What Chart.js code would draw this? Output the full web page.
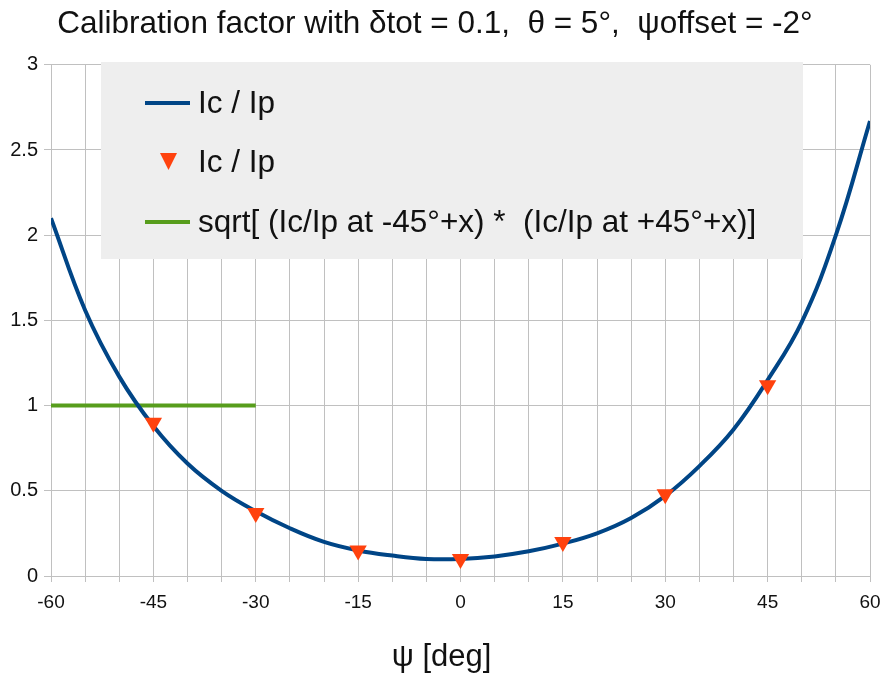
<!DOCTYPE html>
<html>
<head>
<meta charset="utf-8">
<script src="https://cdn.jsdelivr.net/npm/chart.js@4.4.1/dist/chart.umd.min.js"></script>
<style>
  html, body { margin: 0; padding: 0; background: #fff; }
  #wrap { width: 883px; height: 675px; }
</style>
</head>
<body>
<div id="wrap"><canvas id="calChart"></canvas></div>
<script>
// values
var psiCurve = [-60, -55, -50, -45, -40, -35, -30, -25, -20, -15, -10, -5, 0, 5, 10, 15, 20, 25, 30, 35, 40, 45, 50, 55, 60];
var ratioCurve = [2.10, 1.56, 1.17, 0.88, 0.66, 0.50, 0.38, 0.28, 0.20, 0.15, 0.12, 0.10, 0.10, 0.115, 0.145, 0.19, 0.25, 0.34, 0.47, 0.645, 0.86, 1.15, 1.49, 2.00, 2.67];
var psiMarkers = [-45, -30, -15, 0, 15, 30, 45];
var ratioMarkers = [0.90, 0.37, 0.15, 0.10, 0.20, 0.48, 1.12];
var psiGeo = [-60, -30];
var geoMean = [1, 1];
var yTicks = [0, 0.5, 1, 1.5, 2, 2.5, 3];

var labelCurve = 'Ic / Ip';
var labelMarkers = 'Ic / Ip';
var labelGeo = 'sqrt[ (Ic/Ip at -45°+x) *  (Ic/Ip at +45°+x)]';
var xTitle = 'ψ [deg]';

var blue = '#004586';
var orange = '#ff420e';
var green = '#579d1c';
var gridColor = '#c0c0c0';
var fontFamily = '"Liberation Sans", Arial, sans-serif';

function toPoints(xs, ys) {
    return xs.map(function(x, i) { return { x: x, y: ys[i] }; });
}

// legend box drawn inside the plot, like the office chart,
// and the axis title centred on the page rather than the plot
var boxLegend = {
    id: 'boxLegend',
    afterDatasetsDraw: function(chart) {
        var ctx = chart.ctx;
        ctx.save();
        ctx.fillStyle = '#eeeeee';
        ctx.fillRect(101, 62, 702, 197);
        ctx.font = '31.5px ' + fontFamily;
        ctx.textBaseline = 'middle';
        var rows = [103, 162, 222];
        chart.data.datasets.forEach(function(ds, i) {
            var y = rows[i];
            if (ds.showLine === false) {
                ctx.fillStyle = ds.pointBackgroundColor;
                ctx.beginPath();
                ctx.moveTo(160, y - 9);
                ctx.lineTo(177, y - 9);
                ctx.lineTo(168.5, y + 8);
                ctx.closePath();
                ctx.fill();
            } else {
                ctx.strokeStyle = ds.borderColor;
                ctx.lineWidth = 4;
                ctx.beginPath();
                ctx.moveTo(145, y);
                ctx.lineTo(190, y);
                ctx.stroke();
            }
            ctx.fillStyle = '#111';
            ctx.fillText(ds.label, 198, y + 1);
        });

        ctx.font = '31px ' + fontFamily;
        ctx.textAlign = 'center';
        ctx.fillText(xTitle, chart.width / 2, 657);
        ctx.restore();
    }
};

document.addEventListener('DOMContentLoaded', function() {
    var ctx = document.getElementById('calChart').getContext('2d');

    new Chart(ctx, {
        type: 'scatter',
        data: {
            datasets: [{
                label: labelCurve,
                data: toPoints(psiCurve, ratioCurve),
                showLine: true,
                borderColor: blue,
                borderWidth: 4,
                pointRadius: 0,
                tension: 0.4,
                order: 2
            }, {
                label: labelMarkers,
                data: toPoints(psiMarkers, ratioMarkers),
                showLine: false,
                pointStyle: 'triangle',
                pointRotation: 180,
                pointRadius: 10,
                pointBackgroundColor: orange,
                pointBorderColor: orange,
                pointBorderWidth: 0,
                order: 1
            }, {
                label: labelGeo,
                data: toPoints(psiGeo, geoMean),
                showLine: true,
                borderColor: green,
                borderWidth: 4,
                pointRadius: 0,
                order: 3
            }]
        },
        options: {
            responsive: true,
            maintainAspectRatio: false,
            animation: false,
            layout: { padding: { left: 0, right: 13, top: 0, bottom: 0 } },
            scales: {
                x: {
                    type: 'linear',
                    min: -60,
                    max: 60,
                    afterFit: function(scale) {
                        scale.height = 99;
                        scale.paddingLeft = 0;
                        scale.paddingRight = 0;
                    },
                    ticks: {
                        stepSize: 5,
                        autoSkip: false,
                        maxRotation: 0,
                        padding: 9,
                        color: '#111',
                        font: { family: fontFamily, size: 19 },
                        callback: function(v) { return v % 15 === 0 ? String(v) : ''; }
                    },
                    grid: { color: gridColor, tickLength: 6 },
                    border: { color: gridColor }
                },
                y: {
                    min: 0,
                    max: 3,
                    afterFit: function(scale) { scale.width = 51; },
                    afterBuildTicks: function(scale) {
                        scale.ticks = yTicks.map(function(v) { return { value: v }; });
                    },
                    ticks: {
                        padding: 6,
                        color: '#111',
                        font: { family: fontFamily, size: 20 },
                        callback: function(v) { return String(v); }
                    },
                    grid: { color: gridColor, tickLength: 7 },
                    border: { color: gridColor }
                }
            },
            plugins: {
                legend: { display: false },
                tooltip: { enabled: false },
                title: {
                    display: true,
                    text: 'Calibration factor with δtot = 0.1,  θ = 5°,  ψoffset = -2°',
                    color: '#111',
                    font: { family: fontFamily, size: 31.5, weight: 'normal', lineHeight: 1.2 },
                    padding: { top: 5, bottom: 22 }
                }
            }
        },
        plugins: [boxLegend]
    });
});
</script>
</body>
</html>
